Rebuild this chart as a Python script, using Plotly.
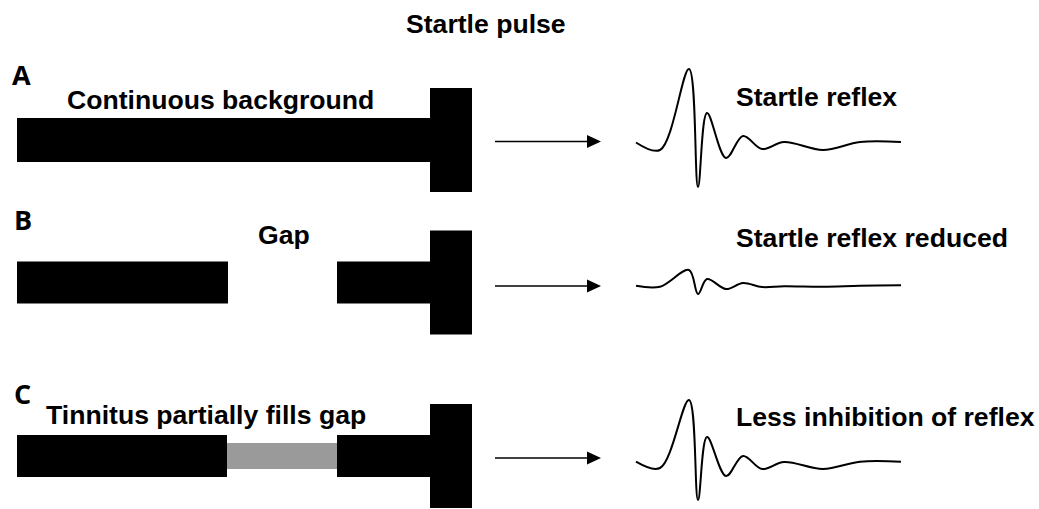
import plotly.graph_objects as go

W, H = 1039, 509

# ---- diagram data (diagram units = pixels of the 1039x509 canvas) ----
rows = ["A", "B", "C"]
row_center = [140, 282.5, 456]          # vertical centre of each stimulus row
bg_start = [[17], [17, 337], [17, 337]]  # background-noise segment starts
bg_end = [[430], [228, 430], [227, 430]]  # background-noise segment ends
fill_start = [None, None, 227]           # tinnitus fill in gap (row C)
fill_end = [None, None, 337]
pulse_start = [430, 430, 430]
pulse_end = [472, 472, 472]
bg_half = [22, 21, 21]
pulse_half = [52, 52, 52]
fill_half = 13

arrow_x0 = [495, 495, 495]
arrow_x1 = [601, 601, 601]
arrow_y = [141.5, 286, 458]

wave_t = [636, 660, 689, 698, 707, 726, 743, 762, 784, 823, 860, 901]
wave_base = [142.5, 285.7, 461.7]
amp_A = [0, -7.5, 73.5, -44.5, 29.5, -15.5, 6.5, -6.5, 0.5, -7.5, 0.5, 0.5]
amp_B = [0, -1.0, 15.7, -8.3, 6.7, -3.3, 2.7, -1.3, -0.5, -1.0, 0.0, 0.5]
amp_C = [0, -6.3, 61.7, -38.3, 24.7, -14.3, 5.7, -7.3, -0.3, -7.3, 0.0, 0.0]
amps = [amp_A, amp_B, amp_C]

labels_text = ["Startle pulse", "A", "B", "C", "Continuous background", "Gap",
               "Tinnitus partially fills gap", "Startle reflex",
               "Startle reflex reduced", "Less inhibition of reflex"]
labels_x = [404, 10, 12, 12, 65, 256, 44, 734, 734, 734]
labels_y = [24, 74, 219, 393, 100, 235, 415, 97, 238, 417]

fig = go.Figure()
shapes = []
for i in range(3):
    c = row_center[i]
    for s, e in zip(bg_start[i], bg_end[i]):
        shapes.append(dict(type="rect", xref="x", yref="y", x0=s, x1=e,
                           y0=c - bg_half[i], y1=c + bg_half[i],
                           fillcolor="black", line=dict(width=0), layer="above"))
    if fill_start[i] is not None:
        shapes.append(dict(type="rect", xref="x", yref="y", x0=fill_start[i], x1=fill_end[i],
                           y0=c - fill_half, y1=c + fill_half,
                           fillcolor="#9a9a9a", line=dict(width=0), layer="above"))
    shapes.append(dict(type="rect", xref="x", yref="y", x0=pulse_start[i], x1=pulse_end[i],
                       y0=c - pulse_half[i], y1=c + pulse_half[i],
                       fillcolor="black", line=dict(width=0), layer="above"))
    # arrow
    ay = arrow_y[i]
    fig.add_trace(go.Scatter(x=[arrow_x0[i], arrow_x1[i] - 8], y=[ay, ay], mode="lines",
                             line=dict(color="black", width=1.6), hoverinfo="skip"))
    tip = arrow_x1[i]
    shapes.append(dict(type="path", xref="x", yref="y",
                       path=f"M {tip-14},{ay-6.5} L {tip},{ay} L {tip-14},{ay+6.5} Z",
                       fillcolor="black", line=dict(width=0)))
    # wave
    fig.add_trace(go.Scatter(x=wave_t, y=[wave_base[i] - a for a in amps[i]], mode="lines",
                             line=dict(color="black", width=2, shape="spline", smoothing=1.0),
                             hoverinfo="skip"))

annotations = []
for t, x, y in zip(labels_text, labels_x, labels_y):
    is_letter = t in rows
    annotations.append(dict(text=f"<b>{t}</b>", x=x, y=y, xref="x", yref="y",
                            xanchor="left", yanchor="middle", showarrow=False,
                            font=dict(family="Open Sans" if is_letter else "Liberation Sans",
                                      size=27 if is_letter else 26.6, color="black")))

fig.update_layout(width=W, height=H,
                  margin=dict(l=0, r=0, t=0, b=0),
                  paper_bgcolor="white", plot_bgcolor="white", showlegend=False,
                  shapes=shapes, annotations=annotations,
                  xaxis=dict(range=[0, W], visible=False, fixedrange=True),
                  yaxis=dict(range=[H, 0], visible=False, fixedrange=True))
fig.write_html("out.html", config={"displayModeBar": False},
               post_script="document.body.style.margin='0px';document.body.style.overflow='hidden';")
